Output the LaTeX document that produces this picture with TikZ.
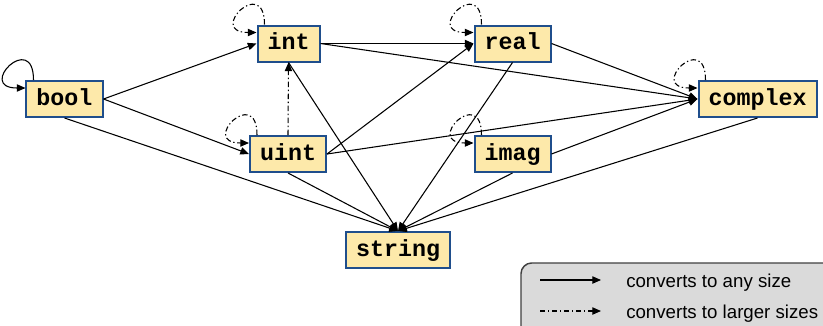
\documentclass[tikz,border=0pt]{standalone}
\usepackage{fontspec}
\setmainfont{Liberation Sans}
\newfontfamily\codefont{Liberation Mono}
\usetikzlibrary{arrows.meta}
\definecolor{boxfill}{HTML}{FDE9AA}
\definecolor{boxline}{HTML}{1F4E8C}
\definecolor{legfill}{HTML}{DADADA}
\definecolor{legline}{HTML}{404040}
\begin{document}
\begin{tikzpicture}[x=0.75pt,y=-0.75pt,
  typ/.style={draw=boxline, fill=boxfill, line width=1.5pt,
    font=\codefont\bfseries\fontsize{17.5}{20}\selectfont,
    inner xsep=7.5pt, inner ysep=0pt, text height=11.5pt, text depth=2pt,
    minimum height=27pt},
  conv/.style={line width=0.8pt, -{Triangle[length=6.5pt,width=5.5pt]}},
  conval/.style={conv, dash pattern=on 4pt off 2pt on 1pt off 2pt},
  legtext/.style={anchor=base west, inner sep=0pt, font=\fontsize{14}{16}\selectfont}
]
\clip (0,0) rectangle (823,325);
\fill[white] (0,0) rectangle (823,325);

% nodes
\node[typ] (bool)    at (64.5,99)  {bool};
\node[typ] (int)     at (288.5,43.5) {int};
\node[typ] (uint)    at (288,154)  {uint};
\node[typ] (real)    at (512.5,43.5) {real};
\node[typ] (imag)    at (512.5,154) {imag};
\node[typ] (complex) at (757.5,99) {complex};
\node[typ] (string)  at (398,250)  {string};

% conversions
\draw[conv] (bool.east) -- (int.west);
\draw[conv] (bool.east) -- (uint.west);
\draw[conv] (bool.south) -- (string.north);
\draw[conv] (int.east) -- (real.west);
\draw[conv] (int.east) -- (complex.west);
\draw[conv] (int.south) -- (string.north);
\draw[conval] (uint.north) -- (int.south);
\draw[conv] (uint.east) -- (real.west);
\draw[conv] (uint.east) -- (complex.west);
\draw[conv] (uint.south) -- (string.north);
\draw[conv] (real.east) -- (complex.west);
\draw[conv] (real.south) -- (string.north);
\draw[conv] (imag.east) -- (complex.west);
\draw[conv] (imag.south) -- (string.north);
\draw[conv] (complex.south) -- (string.north);

% self loops
\draw[conv] ([xshift=6pt]bool.north west) .. controls +(0,-50) and +(-50,0) .. ([yshift=-6pt]bool.north west);
\foreach \n in {int,uint,real,imag,complex}
  \draw[conval] ([xshift=6pt]\n.north west) .. controls +(0,-50) and +(-50,0) .. ([yshift=-6pt]\n.north west);

% legend
\draw[draw=legline, line width=1.1pt, fill=legfill, rounded corners=8pt] (521,263) rectangle (850,350);
\coordinate (l1a) at (540,280);
\coordinate (l1b) at (601,280);
\coordinate (l2a) at (540,311);
\coordinate (l2b) at (601,311);
\draw[conv] (l1a) -- (l1b);
\draw[conval] (l2a) -- (l2b);
\node[legtext] (t1) at (626,287) {converts to any size};
\node[legtext] (t2) at (626,318) {converts to larger sizes};
\end{tikzpicture}
\end{document}
